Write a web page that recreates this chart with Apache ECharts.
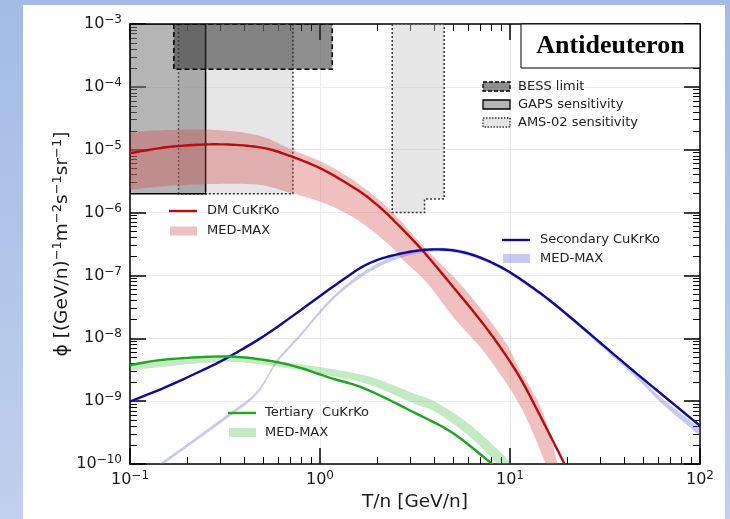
<!DOCTYPE html>
<html>
<head>
<meta charset="utf-8">
<title>Antideuteron flux</title>
<script src="https://cdn.jsdelivr.net/npm/echarts@6/dist/echarts.min.js"></script>
<style>
  html, body { margin: 0; padding: 0; }
  #chart { width: 730px; height: 519px; }
</style>
</head>
<body>
<div id="chart"></div>
<script>
// Kinetic energy per nucleon T/n [GeV/n] vs flux [(GeV/n)^-1 m^-2 s^-1 sr^-1]

// Dark-matter antideuterons
const dmCuKrKo = [[0.1,8.8e-6],[0.162,1.11e-5],[0.287,1.22e-5],[0.483,1.09e-5],[0.695,7.96e-6],[1.04,4.8e-6],[1.57,2.3e-6],[1.9,1.5e-6],[2.34,8.55e-7],[3.44,2.55e-7],[5.01,6.6e-8],[6.95,1.97e-8],[8.86,7.3e-9],[11.3,2.35e-9],[14.4,5.86e-10],[19.2,1.05e-10],[21.2,5.6e-11]];
const dmMedMaxUpper = [[0.1,1.92e-5],[0.162,2.06e-5],[0.287,2.06e-5],[0.483,1.66e-5],[0.695,1.03e-5],[1.04,6.2e-6],[1.57,2.96e-6],[2.34,1.1e-6],[3.48,2.96e-7],[5.46,7.35e-8],[7.57,2.2e-8],[9.64,7.9e-9],[11.1,3.4e-9],[14.7,7.3e-10],[17.7,1.05e-10],[18.5,3.9e-11]];
const dmMedMaxLower = [[0.1,2.3e-6],[0.162,2.66e-6],[0.287,2.86e-6],[0.483,2.75e-6],[0.695,2.06e-6],[1.04,1.43e-6],[1.57,7.7e-7],[2.34,2.96e-7],[2.73,1.77e-7],[3.66,7.6e-8],[5.01,2.2e-8],[6.95,7.3e-9],[8.55,3.16e-9],[11.6,7.3e-10],[15.3,1.05e-10],[16.8,3.9e-11]];

// Secondary antideuterons
const secCuKrKo = [[0.1,9.9e-10],[0.15,1.61e-9],[0.224,2.8e-9],[0.316,4.67e-9],[0.503,1.07e-8],[0.754,2.52e-8],[1.175,6.67e-8],[1.79,1.53e-7],[2.73,2.26e-7],[4.08,2.6e-7],[5.92,2.26e-7],[8.86,1.38e-7],[13.2,6.35e-8],[19.5,2.54e-8],[43.9,3.16e-9],[100,4.06e-10]];
const secMedMaxUpper = [[0.1,4.6e-11],[0.147,1.07e-10],[0.323,6.0e-10],[0.465,1.44e-9],[0.592,4.5e-9],[0.785,1.17e-8],[1.175,4.7e-8],[1.79,1.27e-7],[2.73,2.25e-7],[4.08,2.75e-7],[5.92,2.42e-7],[8.86,1.46e-7],[13.2,6.7e-8],[19.5,2.65e-8],[43.9,3.1e-9],[61.5,1.18e-9],[100,3.7e-10]];
const secMedMaxLower = [[0.1,4.1e-11],[0.147,9.5e-11],[0.323,5.3e-10],[0.465,1.28e-9],[0.592,4.0e-9],[0.785,1.04e-8],[1.175,4.15e-8],[1.79,1.1e-7],[2.73,1.95e-7],[4.08,2.4e-7],[5.92,2.1e-7],[8.86,1.28e-7],[13.2,5.9e-8],[19.5,2.35e-8],[43.9,2.7e-9],[61.5,9.8e-10],[100,2.8e-10]];

// Tertiary antideuterons
const terCuKrKo = [[0.1,3.72e-9],[0.15,4.55e-9],[0.31,5.14e-9],[0.502,4.55e-9],[0.754,3.52e-9],[1.13,2.35e-9],[1.73,1.57e-9],[3.16,6.5e-10],[5.0,3.11e-10],[7.93,1.04e-10],[9.4,6.8e-11]];
const terMedMaxUpper = [[0.1,4.07e-9],[0.149,4.39e-9],[0.308,4.9e-9],[0.501,4.55e-9],[0.757,3.93e-9],[1.13,3.27e-9],[1.83,2.44e-9],[3.05,1.36e-9],[4.13,9.4e-10],[6.16,4.2e-10],[9.18,1.41e-10],[11.3,6.8e-11]];
const terMedMaxLower = [[0.1,3.04e-9],[0.149,3.52e-9],[0.308,4.23e-9],[0.501,3.79e-9],[0.757,3.16e-9],[1.13,2.53e-9],[1.83,1.82e-9],[3.05,9.4e-10],[4.13,6.5e-10],[6.16,2.7e-10],[9.18,8.1e-11],[11.3,4.2e-11]];

// Experimental limits / sensitivities: outline corners [T, flux]
const bessLimit = [[0.17,1e-3],[0.17,1.9e-4],[1.16,1.9e-4],[1.16,1e-3]];
const gapsSensitivity = [[0.1,1e-3],[0.1,2e-6],[0.25,2e-6],[0.25,1e-3]];
const amsLowBand = [[0.18,1e-3],[0.18,2e-6],[0.72,2e-6],[0.72,1e-3]];
const amsHighBand = [[2.4,1e-3],[2.4,1e-6],[3.55,1e-6],[3.55,1.65e-6],[4.5,1.65e-6],[4.5,1e-3]];

// Axis ranges
const xRange = [0.1, 100];
const yRange = [1e-10, 1e-3];

const FONT = 'DejaVu Sans';
const C = {
  dm: '#bb0c0c', dmBand: 'rgba(210,60,60,0.33)',
  sec: '#0c0c9c', secBand: 'rgba(110,110,215,0.38)',
  ter: '#1fa51f', terBand: 'rgba(60,185,60,0.30)',
  bess: 'rgba(50,50,50,0.55)', gaps: 'rgba(120,120,120,0.55)', ams: 'rgba(200,200,200,0.45)'
};

// minor tick positions (2..9 x 10^k) inside a range
function minorValues(lo, hi) {
  const out = [];
  for (let e = Math.floor(Math.log10(lo)); Math.pow(10, e) < hi; e++) {
    for (let k = 2; k <= 9; k++) {
      const v = k * Math.pow(10, e);
      if (v > lo && v < hi) out.push(v);
    }
  }
  return out;
}

function powLabel(v) {
  const e = Math.round(Math.log10(v));
  return '{b|10}{s|' + (e < 0 ? '\u2212' + (-e) : String(e)) + '}';
}
const powRich = {
  b: { fontSize: 16, lineHeight: 20, fontFamily: FONT, color: '#1a1a1a' },
  s: { fontSize: 12, lineHeight: 6, verticalAlign: 'top', fontFamily: FONT, color: '#1a1a1a' }
};

// Catmull-Rom smoothing in pixel space for curves and band outlines
function smoothPts(pts, steps) {
  const out = [];
  for (let i = 0; i < pts.length - 1; i++) {
    const p0 = pts[i - 1] || pts[i], p1 = pts[i], p2 = pts[i + 1], p3 = pts[i + 2] || pts[i + 1];
    for (let s = 0; s < steps; s++) {
      const t = s / steps, t2 = t * t, t3 = t2 * t;
      const f = (a, b, c, d) => 0.5 * (2 * b + (-a + c) * t + (2 * a - 5 * b + 4 * c - d) * t2 + (-a + 3 * b - 3 * c + d) * t3);
      out.push([f(p0[0], p1[0], p2[0], p3[0]), f(p0[1], p1[1], p2[1], p3[1])]);
    }
  }
  out.push(pts[pts.length - 1]);
  return out;
}

function bandSeries(name, upper, lower, fill) {
  return {
    type: 'custom', name: name, z: 3, clip: true, silent: true,
    data: [upper[0]],
    renderItem: function (params, api) {
      const up = smoothPts(upper.map(p => api.coord(p)), 12);
      const lo = smoothPts(lower.map(p => api.coord(p)), 12).reverse();
      return { type: 'polygon', shape: { points: up.concat(lo) }, style: { fill: fill } };
    }
  };
}

function curveSeries(name, data, color) {
  return {
    type: 'custom', name: name, z: 4, clip: true, silent: true,
    data: [data[0]],
    renderItem: function (params, api) {
      return {
        type: 'polyline',
        shape: { points: smoothPts(data.map(p => api.coord(p)), 12) },
        style: { stroke: color, lineWidth: 2.4, fill: null, lineJoin: 'round', lineCap: 'round' }
      };
    }
  };
}

function boxSeries(name, corners, fill, dash, stroke) {
  return {
    type: 'custom', name: name, z: 2, clip: true, silent: true,
    data: [corners[0]],
    renderItem: function (params, api) {
      return {
        type: 'polygon',
        shape: { points: corners.map(p => api.coord(p)) },
        style: { fill: fill, stroke: stroke, lineWidth: 1.5, lineDash: dash }
      };
    }
  };
}

const frameLine = { show: true, onZero: false, lineStyle: { color: '#000', width: 1.5 } };
const majorTick = { show: true, inside: true, length: 16, lineStyle: { color: '#000', width: 1.5 } };
function minorTick(vals) {
  return { show: true, inside: true, length: 7, customValues: vals, lineStyle: { color: '#000', width: 1 } };
}
const xMinor = minorValues(xRange[0], xRange[1]);
const yMinor = minorValues(yRange[0], yRange[1]);

function xAx(pos, major, extra) {
  return Object.assign({
    type: 'log', logBase: 10, min: xRange[0], max: xRange[1], position: pos, gridIndex: 0,
    axisLine: major ? frameLine : { show: false },
    axisTick: major ? majorTick : minorTick(xMinor),
    axisLabel: { show: false }, splitLine: { show: false }
  }, extra || {});
}
function yAx(pos, major, extra) {
  return Object.assign({
    type: 'log', logBase: 10, min: yRange[0], max: yRange[1], position: pos, gridIndex: 0,
    axisLine: major ? frameLine : { show: false },
    axisTick: major ? majorTick : minorTick(yMinor),
    axisLabel: { show: false }, splitLine: { show: false }
  }, extra || {});
}

const legendText = (x, y, text) => ({
  type: 'text', x: x, y: y, z: 100,
  style: { text: text, fill: '#222', font: '13px "DejaVu Sans"', textAlign: 'left', textVerticalAlign: 'middle', align: 'left', verticalAlign: 'middle' }
});
const legendLine = (x, y, color) => ({
  type: 'line', z: 100, shape: { x1: x, y1: y, x2: x + 28, y2: y }, style: { stroke: color, lineWidth: 2.4 }
});
const legendPatch = (x, y, fill, stroke, dash) => ({
  type: 'rect', z: 100, shape: { x: x, y: y - 4.5, width: 27, height: 9 },
  style: { fill: fill, stroke: stroke || null, lineWidth: 1.3, lineDash: dash || null }
});

const option = {
  animation: false,
  backgroundColor: {
    type: 'linear', x: 0, y: 0, x2: 0, y2: 1,
    colorStops: [{ offset: 0, color: '#a3bbe5' }, { offset: 1, color: '#c0d0ee' }]
  },
  textStyle: { fontFamily: FONT },
  grid: { left: 130, top: 24, width: 570, height: 440, containLabel: false },
  xAxis: [
    xAx('bottom', true, {
      axisLabel: { show: true, formatter: powLabel, rich: powRich, margin: 6 },
      splitLine: { show: true, lineStyle: { color: '#ececec', width: 1 } },
      name: 'T/n [GeV/n]', nameLocation: 'middle', nameGap: 26,
      nameTextStyle: { fontSize: 18.5, fontFamily: FONT, color: '#1a1a1a' }
    }),
    xAx('top', true),
    xAx('bottom', false),
    xAx('top', false)
  ],
  yAxis: [
    yAx('left', true, {
      axisLabel: { show: true, formatter: powLabel, rich: powRich, margin: 8 },
      splitLine: { show: true, lineStyle: { color: '#ececec', width: 1 } },
      name: '{t|\u03D5 [(GeV/n)}{s|\u22121}{t|m}{s|\u22122}{t|s}{s|\u22121}{t|sr}{s|\u22121}{t|]}',
      nameLocation: 'middle', nameGap: 57, nameRotate: 90, nameMoveOverlap: false,
      nameTextStyle: {
        fontFamily: FONT, color: '#1a1a1a',
        rich: {
          t: { fontSize: 18.5, lineHeight: 22, fontFamily: FONT, color: '#1a1a1a' },
          s: { fontSize: 13, lineHeight: 6, verticalAlign: 'top', fontFamily: FONT, color: '#1a1a1a' }
        }
      }
    }),
    yAx('right', true),
    yAx('left', false),
    yAx('right', false)
  ],
  series: [
    boxSeries('AMS-02 sensitivity', amsLowBand, C.ams, [2, 2], '#333'),
    boxSeries('AMS-02 sensitivity ', amsHighBand, C.ams, [2, 2], '#333'),
    boxSeries('GAPS sensitivity', gapsSensitivity, C.gaps, null, '#000'),
    boxSeries('BESS limit', bessLimit, C.bess, [5, 3], '#000'),
    bandSeries('DM MED-MAX', dmMedMaxUpper, dmMedMaxLower, C.dmBand),
    bandSeries('Secondary MED-MAX', secMedMaxUpper, secMedMaxLower, C.secBand),
    bandSeries('Tertiary MED-MAX', terMedMaxUpper, terMedMaxLower, C.terBand),
    curveSeries('DM CuKrKo', dmCuKrKo, C.dm),
    curveSeries('Secondary CuKrKo', secCuKrKo, C.sec),
    curveSeries('Tertiary CuKrKo', terCuKrKo, C.ter)
  ],
  graphic: {
    elements: [
      { type: 'rect', z: -100, silent: true, shape: { x: 23, y: 5, width: 702, height: 514 }, style: { fill: '#ffffff' } },
      // title box
      { type: 'rect', z: 100, shape: { x: 521, y: 24, width: 179, height: 44 }, style: { fill: '#fff', stroke: '#000', lineWidth: 1 } },
      { type: 'text', z: 101, x: 610.5, y: 46,
        style: { text: 'Antideuteron', fill: '#000', font: 'bold 26px "Liberation Serif"', textAlign: 'center', textVerticalAlign: 'middle', align: 'center', verticalAlign: 'middle' } },
      // experiments
      legendPatch(483, 86.5, C.bess, '#000', [4, 2]), legendText(518, 86.5, 'BESS limit'),
      legendPatch(483, 104.5, C.gaps, '#000'), legendText(518, 104.5, 'GAPS sensitivity'),
      legendPatch(483, 122.5, C.ams, '#333', [1.5, 1.5]), legendText(518, 122.5, 'AMS-02 sensitivity'),
      // DM
      legendLine(169, 211, C.dm), legendText(207, 211, 'DM CuKrKo'),
      legendPatch(170, 231, C.dmBand), legendText(207, 231, 'MED-MAX'),
      // secondary
      legendLine(502, 240, C.sec), legendText(540, 240, 'Secondary CuKrKo'),
      legendPatch(503, 258.5, C.secBand), legendText(540, 258.5, 'MED-MAX'),
      // tertiary
      legendLine(228, 413, C.ter), legendText(265, 413, 'Tertiary  CuKrKo'),
      legendPatch(229, 432.5, C.terBand), legendText(265, 432.5, 'MED-MAX')
    ]
  }
};

// bind every series to the primary axes
option.series.forEach(s => { s.xAxisIndex = 0; s.yAxisIndex = 0; });

const chart = echarts.init(document.getElementById('chart'), null, { renderer: 'canvas' });
chart.setOption(option);
</script>
</body>
</html>
